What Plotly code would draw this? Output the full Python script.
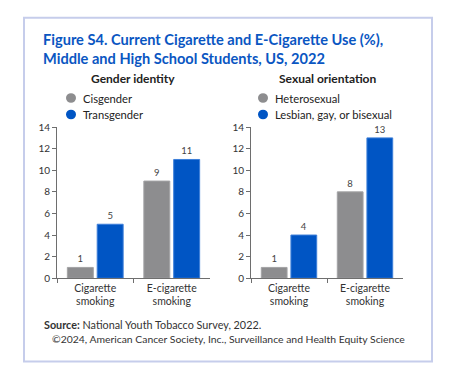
import plotly.graph_objects as go

categories = ["Cigarette<br>smoking", "E-cigarette<br>smoking"]
gender_groups = ["Cisgender", "Transgender"]
gender_values = [[1, 9], [5, 11]]
orient_groups = ["Heterosexual", "Lesbian, gay, or bisexual"]
orient_values = [[1, 8], [4, 13]]
y_ticks = [0, 2, 4, 6, 8, 10, 12, 14]

colors = ["#8d8d8f", "#0055c4"]
line_colors = ["#a3a3a5", "#3d7fd9"]

W, H = 453, 384
FONT = "Lato"

fig = go.Figure()

for i, (g, vals) in enumerate(zip(gender_groups, gender_values)):
    fig.add_trace(go.Bar(
        x=categories, y=vals, name=g, xaxis="x", yaxis="y",
        marker=dict(color=colors[i], line=dict(color=line_colors[i], width=1)),
        text=vals, textposition="outside", cliponaxis=False,
        textfont=dict(size=9.5, color="#444", family=FONT),
        showlegend=False, hoverinfo="skip"))
for i, (g, vals) in enumerate(zip(orient_groups, orient_values)):
    fig.add_trace(go.Bar(
        x=categories, y=vals, name=g, xaxis="x2", yaxis="y2",
        marker=dict(color=colors[i], line=dict(color=line_colors[i], width=1)),
        text=vals, textposition="outside", cliponaxis=False,
        textfont=dict(size=9.5, color="#444", family=FONT),
        showlegend=False, hoverinfo="skip"))

def px(x):
    return x / W

def py(y):
    return 1 - y / H

yax = dict(range=[0, 14], tickvals=y_ticks, showgrid=False, zeroline=False,
           showline=True, linecolor="#6e6e6e", linewidth=1, ticks="outside",
           ticklen=4, tickcolor="#6e6e6e",
           tickfont=dict(size=10, color="#333", family=FONT),
           domain=[py(281), py(125)])
xax = dict(showgrid=False, zeroline=False, showline=True, linecolor="#6e6e6e",
           linewidth=1, ticks="outside", ticklen=4, tickcolor="#6e6e6e",
           tickson="boundaries",
           tickfont=dict(size=10.5, color="#333", family=FONT))

fig.update_layout(
    width=W, height=H, margin=dict(l=0, r=0, t=0, b=0),
    paper_bgcolor="white", plot_bgcolor="white",
    barmode="group", bargap=0.22, bargroupgap=0.13,
    xaxis=dict(xax, domain=[px(57), px(210)], anchor="y"),
    yaxis=dict(yax, anchor="x"),
    xaxis2=dict(xax, domain=[px(251), px(403)], anchor="y2"),
    yaxis2=dict(yax, anchor="x2"),
    font=dict(family=FONT),
)

def note(text, x, y, size, color, xanchor="left", yanchor="middle", **kw):
    return dict(text=text, x=px(x), y=py(y), xref="paper", yref="paper",
                xanchor=xanchor, yanchor=yanchor, showarrow=False,
                font=dict(size=size, color=color, family=FONT), **kw)

shapes = [dict(type="rect", xref="paper", yref="paper",
               x0=px(24), x1=px(432), y0=py(367), y1=py(12),
               line=dict(color="#c6cdeb", width=2), fillcolor="rgba(0,0,0,0)")]
annotations = [
    note("<b>Figure S4. Current Cigarette and E-Cigarette Use (%),<br>Middle and High School Students, US, 2022</b>",
         41, 44, 14.6, "#0a56c2", align="left"),
    note("<b>Gender identity</b>", 133, 75, 12, "#222", xanchor="center"),
    note("<b>Sexual orientation</b>", 327, 75, 12, "#222", xanchor="center"),
    note("<b>Source:</b> National Youth Tobacco Survey, 2022.", 42, 329, 10.8, "#333"),
    note("©2024, American Cancer Society, Inc., Surveillance and Health Equity Science",
         50, 344, 10.4, "#333"),
]

legend_pos = [(71, gender_groups), (263, orient_groups)]
for lx, groups in legend_pos:
    for i, g in enumerate(groups):
        cy = 95 + 17 * i
        shapes.append(dict(type="circle", xref="paper", yref="paper",
                           x0=px(lx - 5), x1=px(lx + 5), y0=py(cy + 5), y1=py(cy - 5),
                           fillcolor=colors[i], line=dict(width=0)))
        annotations.append(note(g, lx + 10, cy, 11.2, "#222"))

fig.update_layout(shapes=shapes, annotations=annotations)
fig.write_html("out.html", config={"displayModeBar": False},
               post_script="document.body.style.margin='0';document.body.style.overflow='hidden';")
